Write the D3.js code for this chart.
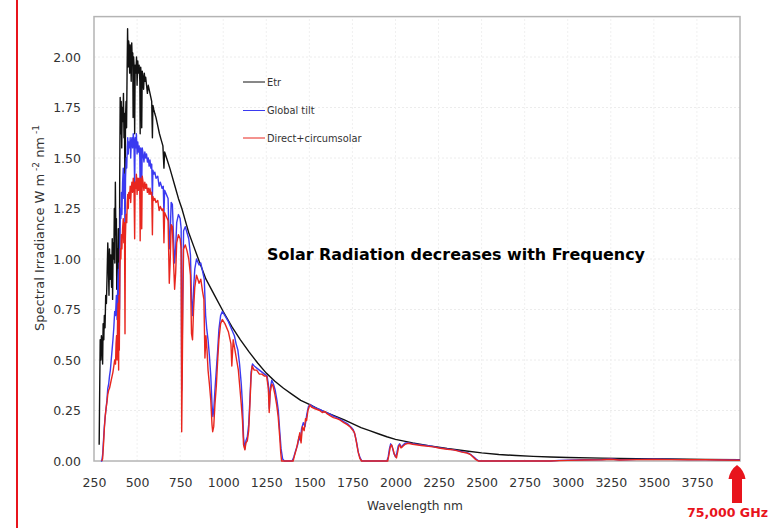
<!DOCTYPE html>
<html><head><meta charset="utf-8">
<script src="https://cdn.jsdelivr.net/npm/d3@7"></script>
<style>html,body{margin:0;padding:0;background:#fff;}svg{display:block;}</style>
</head><body>
<svg id="chart" width="776" height="528"></svg>
<script>
// ---- data ----
const xTicks = [250,500,750,1000,1250,1500,1750,2000,2250,2500,2750,3000,3250,3500,3750];
const yTicks = [0,0.25,0.5,0.75,1.0,1.25,1.5,1.75,2.0];
const seriesNames = ["Etr","Global tilt","Direct+circumsolar"];

const etrNm = [280,283,286,290,293,297,300,303,307,310,314,318,322,326,330,334,337,340,344,348,352,356,358,361,365,368,371,374,377,380,382,385,388,391,393,395,397,399,402,405,408,411,414,418,421,424,427,430,433,436,439,442,445,448,451,454,457,460,463,466,469,472,475,477,480,483,486,489,493,497,500,504,508,512,516,518,521,525,527,530,534,538,542,546,550,555,560,565,570,575,580,585,589,592,597,603,610,620,630,640,650,656,660,675,690,700,720,740,760,780,800,830,860,900,950,1000,1050,1100,1150,1200,1250,1300,1350,1400,1450,1500,1550,1600,1650,1700,1750,1800,1850,1900,1950,2000,2100,2200,2300,2400,2500,2600,2700,2800,2900,3000,3200,3400,3600,3800,4000];
const etrW = [0.08,0.35,0.60,0.50,0.62,0.58,0.48,0.68,0.60,0.72,0.66,0.82,0.78,0.92,1.08,0.95,0.82,1.05,0.90,1.02,0.86,1.10,0.80,1.08,1.00,1.25,0.98,1.38,1.12,1.20,0.85,1.05,0.95,1.15,0.55,1.00,0.65,1.35,1.80,1.62,1.78,1.55,1.75,1.68,1.82,1.60,1.72,1.25,1.70,1.78,1.65,1.92,2.14,1.95,2.08,2.05,1.92,2.06,2.00,1.88,2.07,1.98,2.02,1.70,2.00,1.95,1.62,1.96,1.92,2.00,1.86,1.98,1.92,1.96,1.88,1.62,1.95,1.90,1.65,1.93,1.90,1.84,1.92,1.88,1.90,1.86,1.82,1.86,1.84,1.82,1.80,1.78,1.60,1.76,1.74,1.72,1.70,1.66,1.62,1.59,1.56,1.45,1.53,1.49,1.45,1.42,1.36,1.30,1.25,1.19,1.13,1.06,0.99,0.90,0.82,0.74,0.665,0.60,0.54,0.485,0.435,0.395,0.36,0.33,0.30,0.28,0.258,0.24,0.222,0.205,0.185,0.165,0.15,0.135,0.12,0.107,0.09,0.075,0.062,0.051,0.040,0.032,0.027,0.023,0.020,0.017,0.014,0.012,0.010,0.008,0.006];

const globalNm = [290,295,300,305,310,315,320,325,330,335,340,345,350,355,360,365,370,375,380,384,388,392,394,396,398,400,403,406,409,412,416,420,423,427,430,433,437,440,443,446,449,452,456,460,463,466,470,474,478,482,486,489,492,496,500,504,508,512,516,518,521,525,527,530,535,540,545,550,555,560,565,570,575,580,585,589,592,597,603,610,620,628,635,645,652,656,660,670,680,687,692,698,705,712,718,724,730,740,750,756,759,762,766,770,780,790,800,810,816,822,828,835,845,860,870,880,890,898,905,912,920,928,935,940,945,952,960,968,975,985,995,1010,1030,1050,1065,1075,1085,1095,1105,1112,1118,1125,1132,1140,1148,1155,1162,1170,1180,1195,1210,1225,1240,1255,1262,1268,1273,1282,1292,1302,1312,1320,1328,1336,1345,1355,1400,1410,1420,1432,1440,1448,1455,1465,1475,1485,1495,1505,1520,1540,1560,1580,1600,1620,1640,1660,1680,1700,1720,1740,1755,1765,1775,1785,1795,1805,1950,1958,1965,1972,1980,1990,2000,2008,2016,2024,2032,2040,2055,2075,2100,2150,2200,2250,2300,2340,2370,2400,2420,2440,2455,2470,2485,2900,2950,3000,3100,3200,3250,3300,3400,3500,3600,3700,3800,3900,4000];
const globalW = [0.0,0.0,0.03,0.10,0.17,0.22,0.26,0.30,0.36,0.38,0.42,0.45,0.50,0.55,0.60,0.66,0.74,0.72,0.82,0.70,0.88,0.95,0.55,0.98,0.75,1.05,1.25,1.20,1.33,1.22,1.38,1.45,1.30,1.42,1.10,1.40,1.50,1.45,1.55,1.60,1.52,1.58,1.55,1.60,1.50,1.57,1.60,1.55,1.62,1.58,1.35,1.60,1.55,1.62,1.52,1.58,1.53,1.56,1.50,1.30,1.55,1.50,1.35,1.55,1.52,1.48,1.53,1.50,1.52,1.48,1.50,1.46,1.49,1.45,1.47,1.30,1.44,1.42,1.43,1.40,1.41,1.36,1.38,1.35,1.36,1.22,1.34,1.32,1.30,1.05,1.12,1.28,1.27,1.10,0.98,1.05,1.18,1.22,1.20,1.15,0.35,0.55,0.90,1.14,1.16,1.13,1.10,1.02,0.80,0.72,0.85,0.95,1.00,0.97,0.98,0.94,0.90,0.72,0.65,0.60,0.52,0.42,0.28,0.22,0.25,0.35,0.45,0.55,0.65,0.72,0.74,0.72,0.69,0.65,0.62,0.58,0.55,0.48,0.38,0.28,0.12,0.06,0.10,0.12,0.18,0.30,0.44,0.48,0.47,0.46,0.45,0.44,0.43,0.42,0.38,0.26,0.36,0.40,0.38,0.35,0.30,0.25,0.15,0.06,0.01,0.0,0.0,0.02,0.05,0.08,0.12,0.10,0.16,0.19,0.17,0.23,0.27,0.28,0.27,0.262,0.255,0.247,0.24,0.232,0.222,0.215,0.206,0.195,0.185,0.17,0.155,0.13,0.09,0.04,0.015,0.0,0.0,0.02,0.06,0.085,0.075,0.04,0.02,0.04,0.075,0.085,0.07,0.075,0.088,0.09,0.086,0.08,0.074,0.066,0.06,0.055,0.05,0.043,0.04,0.03,0.02,0.008,0.0,0.0,0.003,0.004,0.006,0.007,0.010,0.006,0.008,0.009,0.008,0.007,0.007,0.006,0.005];

const directNm = [295,300,305,310,315,320,325,330,335,340,345,350,355,360,365,370,375,378,381,384,387,390,393,395,397,400,403,406,409,412,416,420,423,427,430,432,436,440,443,446,449,452,456,460,463,466,470,474,478,482,486,489,492,496,500,504,508,512,516,518,521,525,527,530,535,540,545,550,555,560,565,570,575,580,585,589,592,597,603,610,620,628,635,645,652,656,660,670,680,687,692,698,705,712,718,724,730,740,750,756,759,762,766,770,780,790,800,810,816,822,828,835,845,860,870,880,888,894,900,906,912,920,928,935,939,945,952,960,968,975,985,995,1010,1030,1045,1050,1058,1068,1078,1088,1097,1105,1112,1118,1126,1132,1140,1148,1155,1162,1168,1180,1194,1210,1225,1240,1252,1262,1267,1273,1282,1290,1300,1310,1319,1328,1334,1339,1406,1415,1425,1435,1445,1452,1460,1470,1478,1484,1492,1503,1515,1530,1545,1560,1575,1590,1600,1620,1640,1660,1677,1700,1720,1735,1750,1762,1772,1782,1793,1803,1955,1962,1970,1977,1985,1995,2006,2014,2020,2025,2032,2040,2055,2074,2100,2150,2219,2260,2300,2335,2360,2380,2400,2412,2425,2438,2450,2465,2480,2900,2950,3000,3100,3200,3250,3300,3400,3500,3600,3700,3800,3900,4000];
const directW = [0.0,0.01,0.08,0.16,0.22,0.26,0.29,0.33,0.35,0.36,0.38,0.40,0.42,0.44,0.47,0.50,0.48,0.58,0.62,0.50,0.70,0.78,0.45,0.82,0.55,0.95,1.05,1.00,1.12,1.05,1.15,1.20,1.08,1.18,0.63,1.10,1.22,1.18,1.28,1.32,1.25,1.33,1.30,1.36,1.28,1.34,1.38,1.33,1.40,1.36,1.10,1.38,1.35,1.42,1.32,1.40,1.34,1.40,1.35,1.09,1.40,1.36,1.15,1.41,1.38,1.34,1.38,1.35,1.37,1.33,1.35,1.32,1.35,1.32,1.33,1.12,1.31,1.29,1.30,1.28,1.29,1.24,1.26,1.24,1.25,1.08,1.23,1.21,1.19,0.88,0.98,1.17,1.16,0.98,0.85,0.93,1.08,1.12,1.10,1.05,0.145,0.40,0.80,1.05,1.07,1.04,1.00,0.92,0.63,0.60,0.75,0.86,0.92,0.88,0.90,0.84,0.80,0.51,0.62,0.55,0.45,0.38,0.30,0.18,0.145,0.17,0.28,0.37,0.50,0.60,0.68,0.70,0.68,0.64,0.58,0.47,0.60,0.55,0.50,0.45,0.36,0.28,0.20,0.08,0.055,0.09,0.10,0.15,0.28,0.42,0.47,0.45,0.45,0.43,0.43,0.42,0.42,0.36,0.24,0.34,0.38,0.37,0.33,0.28,0.22,0.12,0.04,0.0,0.0,0.03,0.06,0.10,0.14,0.09,0.17,0.15,0.21,0.20,0.25,0.277,0.265,0.26,0.255,0.25,0.24,0.245,0.236,0.225,0.215,0.21,0.203,0.19,0.18,0.17,0.155,0.14,0.10,0.05,0.013,0.0,0.0,0.03,0.07,0.08,0.06,0.03,0.015,0.05,0.075,0.08,0.065,0.07,0.082,0.088,0.083,0.077,0.07,0.063,0.058,0.055,0.05,0.045,0.042,0.04,0.036,0.03,0.02,0.008,0.0,0.0,0.002,0.003,0.005,0.006,0.009,0.005,0.007,0.008,0.007,0.006,0.006,0.005,0.004];

const seriesColors = ["#111111","#3a3af0","#e8261e"];

// ---- drawing ----
const svg = d3.select("#chart");
const x = d3.scaleLinear().domain([250,4000]).range([94,740]);
const y = d3.scaleLinear().domain([0,2.2]).range([461,16.6]);
const FONT = "DejaVu Sans, Verdana, sans-serif";

// left red rule
svg.append("line").attr("x1",17).attr("x2",17).attr("y1",0).attr("y2",528)
  .attr("stroke","#e8141c").attr("stroke-width",2);

// faint grid
const grid = svg.append("g");
grid.selectAll("line.h").data(yTicks.slice(1)).join("line")
  .attr("x1",x(250)).attr("x2",x(4000)).attr("y1",d=>y(d)).attr("y2",d=>y(d))
  .attr("stroke","#ececec").attr("stroke-dasharray","2,2");
grid.selectAll("line.v").data(xTicks.slice(1)).join("line")
  .attr("y1",y(0)).attr("y2",y(2.2)).attr("x1",d=>x(d)).attr("x2",d=>x(d))
  .attr("stroke","#f0f0f0").attr("stroke-dasharray","2,2");

// frame
svg.append("rect").attr("x",x(250)).attr("y",y(2.2)).attr("width",x(4000)-x(250)).attr("height",y(0)-y(2.2))
  .attr("fill","none").attr("stroke","#b4b4b4").attr("stroke-width",1.5);

// axes (labels only)
const xAxis = d3.axisBottom(x).tickValues(xTicks).tickSize(0).tickPadding(17).tickFormat(d3.format("d"));
const gx = svg.append("g").attr("transform",`translate(0,${y(0)})`).call(xAxis);
gx.select(".domain").remove();
gx.selectAll("text").attr("font-family",FONT).attr("font-size","12.5px").attr("fill","#333");

const yAxis = d3.axisLeft(y).tickValues(yTicks).tickSize(0).tickPadding(13).tickFormat(d3.format(".2f"));
const gy = svg.append("g").attr("transform",`translate(${x(250)},0)`).call(yAxis);
gy.select(".domain").remove();
gy.selectAll("text").attr("font-family",FONT).attr("font-size","12.5px").attr("fill","#333");

// axis titles
svg.append("text").attr("x",415).attr("y",510).attr("text-anchor","middle")
  .attr("font-family",FONT).attr("font-size","12px").attr("fill","#333")
  .attr("textLength",96).attr("lengthAdjust","spacingAndGlyphs")
  .text("Wavelength nm");
const yt = svg.append("text").attr("transform","translate(44,228) rotate(-90)").attr("text-anchor","middle")
  .attr("font-family",FONT).attr("font-size","13px").attr("fill","#333");
yt.append("tspan").text("Spectral Irradiance W m");
yt.append("tspan").attr("dy",-5).attr("font-size","9px").text(" -2");
yt.append("tspan").attr("dy",5).text("  nm");
yt.append("tspan").attr("dy",-5).attr("font-size","9px").text("  -1");

// series
const line = d3.line().x(d=>x(d[0])).y(d=>y(d[1]));
const series = [
  d3.zip(etrNm, etrW),
  d3.zip(globalNm, globalW),
  d3.zip(directNm, directW)
];
svg.append("g").selectAll("path").data(series).join("path")
  .attr("d",line).attr("fill","none")
  .attr("stroke",(d,i)=>seriesColors[i]).attr("stroke-width",1.4).attr("stroke-linejoin","round");

// legend
const legY = [82,110.5,138];
const leg = svg.append("g");
seriesNames.forEach((n,i)=>{
  leg.append("line").attr("x1",243).attr("x2",265).attr("y1",legY[i]).attr("y2",legY[i])
    .attr("stroke",seriesColors[i]).attr("stroke-width",1);
  leg.append("text").attr("x",267).attr("y",legY[i]+3.5)
    .attr("font-family",FONT).attr("font-size","9.8px").attr("fill","#333").text(n);
});

// headline
svg.append("text").attr("x",267).attr("y",259.5)
  .attr("font-family",FONT).attr("font-weight","bold").attr("font-size","15.5px")
  .attr("fill","#000").attr("textLength",378).attr("lengthAdjust","spacingAndGlyphs")
  .text("Solar Radiation decreases with Frequency");

// red arrow + label
const ax = x(4000) - 3;
svg.append("path")
  .attr("d",`M${ax},465 Q${ax+7},470 ${ax+8.5},479 L${ax+5},479 L${ax+5},503 L${ax-5},503 L${ax-5},479 L${ax-8.5},479 Q${ax-7},470 ${ax},465 Z`)
  .attr("fill","#e8141c");
svg.append("text").attr("x",687).attr("y",517)
  .attr("font-family",FONT).attr("font-weight","bold").attr("font-size","13px")
  .attr("fill","#e8141c").attr("textLength",81).attr("lengthAdjust","spacingAndGlyphs").text("75,000 GHz");
</script>
</body></html>
